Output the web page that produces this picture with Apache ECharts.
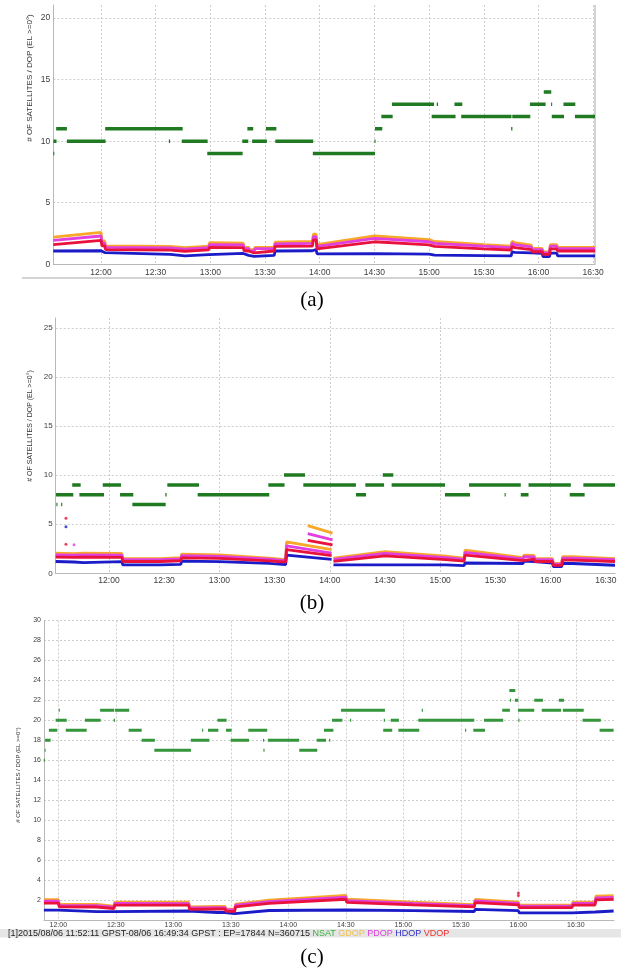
<!DOCTYPE html>
<html><head><meta charset="utf-8">
<script src="https://cdn.jsdelivr.net/npm/echarts@6/dist/echarts.min.js"></script>
<style>html,body{margin:0;padding:0;background:#fff}#c{width:621px;height:968px}</style>
</head><body><div id="c"></div>
<script>
// ---------- texts ----------
const yTitle = '# OF SATELLITES / DOP (EL >=0\u00b0)';
const panelLabels = ['(a)', '(b)', '(c)'];
const statusText = '[1]2015/08/06 11:52:11 GPST-08/06 16:49:34 GPST : EP=17844 N=360715 ';
const legendNames = ['NSAT', 'GDOP', 'PDOP', 'HDOP', 'VDOP'];

// ---------- tick labels ----------
const xLabelsAll = ['12:00','12:30','13:00','13:30','14:00','14:30','15:00','15:30','16:00','16:30'];
const xGridB = ['12:00','13:00','14:00','15:00','16:00'];

// ---------- panel (a) ----------
const nsatA = [
 ['11:33.8','11:34.4',9],['11:33.9','11:35.6',10],['11:35.4','11:41.3',11],['11:41.3','12:02.5',10],
 ['12:02.3','12:44.8',11],['12:37.2','12:37.9',10],['12:44.3','12:58.5',10],['12:58.3','13:17.7',9],
 ['13:17.5','13:20.8',10],['13:20.3','13:23.5',11],['13:22.9','13:31',10],['13:30.5','13:36.2',11],
 ['13:35.6','13:56.4',10],['13:56.2','14:30.3',9],['14:30','14:30.6',10],['14:30.3','14:34.3',11],
 ['14:33.8','14:40',12],['14:39.6','15:02.7',13],['15:04.2','15:04.9',13],['15:01.4','15:14.5',12],
 ['15:13.9','15:18.2',13],['15:17.6','15:45.2',12],['15:45','15:45.7',11],['15:45.6','15:55.5',12],
 ['15:55.3','16:03.9',13],['16:02.9','16:07',14],['16:06.9','16:07.5',13],['16:07.3','16:14',12],
 ['16:13.7','16:20.2',13],['16:20','16:31',12]
];
const timesA = ['11:33.8','12:00','12:00.5','12:02','12:02.5','12:38','12:38.5','12:46','12:46.5','12:59','12:59.5','13:18','13:18.5','13:21','13:21.5','13:24','13:24.5','13:35','13:35.5','13:56','13:56.5','13:58','13:58.5','14:30','15:00','15:00.5','15:03','15:03.5','15:30','15:45','15:45.5','15:47','15:47.5','15:56','15:56.5','16:02','16:02.5','16:06','16:06.5','16:10','16:10.5','16:31'];
const gdopA = [2.2,2.6,1.9,1.9,1.5,1.45,1.35,1.35,1.48,1.48,1.75,1.72,1.4,1.38,1.18,1.18,1.38,1.38,1.8,1.85,2.45,2.45,1.6,2.3,2.0,1.85,1.85,1.95,1.6,1.48,1.88,1.75,1.6,1.55,1.3,1.3,1.0,1.0,1.6,1.6,1.38,1.38];
const pdopA = [1.95,2.3,1.72,1.72,1.38,1.33,1.24,1.24,1.36,1.36,1.6,1.57,1.28,1.27,1.08,1.08,1.27,1.27,1.65,1.7,2.25,2.25,1.45,2.1,1.83,1.7,1.7,1.78,1.47,1.36,1.7,1.6,1.47,1.42,1.2,1.2,0.92,0.92,1.47,1.47,1.27,1.27];
const vdopA = [1.6,1.95,1.5,1.5,1.2,1.15,1.06,1.06,1.17,1.17,1.38,1.36,1.1,1.08,0.92,0.92,1.08,1.08,1.45,1.48,1.98,1.98,1.25,1.83,1.57,1.45,1.45,1.52,1.25,1.16,1.45,1.35,1.25,1.2,1.02,1.02,0.8,0.8,1.25,1.25,1.08,1.08];
const hdopA = [1.08,1.1,0.95,0.95,0.8,0.8,0.7,0.68,0.77,0.78,0.9,0.88,0.72,0.72,0.65,0.65,0.72,0.72,1.08,1.1,1.2,1.2,0.85,0.87,0.82,0.74,0.74,0.78,0.7,0.68,1.0,0.97,0.95,0.93,0.9,0.88,0.62,0.62,0.9,0.9,0.68,0.68];

// ---------- panel (b) ----------
const nsatB = [
 ['11:31.4','11:32',7],['11:34','11:34.6',7],['11:31.2','11:40.6',8],['11:40','11:44.6',9],
 ['11:43.9','11:57.3',8],['11:56.6','12:06.5',9],['12:06','12:13.2',8],['12:12.7','12:30.8',7],
 ['12:30.6','12:31.3',8],['12:31.7','12:48.9',9],['12:48.2','13:27.1',8],['13:26.6','13:35.4',9],
 ['13:35.1','13:46.5',10],['13:45.6','14:14.2',9],['14:14.2','14:19.7',8],['14:19.3','14:29.5',9],
 ['14:28.8','14:34.5',10],['14:33.6','15:02.6',9],['15:02.6','15:16.2',8],['15:15.7','15:43.8',9],
 ['15:35','15:35.6',8],['15:43.8','15:48',8],['15:48','16:11',9],['16:10.4','16:18.5',8],['16:17.8','16:35',9]
];
const timesB = ['11:31','11:41','11:41.5','11:46','11:46.5','12:07','12:07.5','12:28','12:28.5','12:39','12:39.5','13:00','13:27','13:27.5','13:36','13:36.5','14:01',null,'13:48','14:01.5',null,'14:02','14:30','15:03','15:03.5','15:13','15:13.5','15:45','15:45.5','15:51','15:51.5','16:01','16:01.5','16:06','16:06.5','16:12','16:12.5','16:35'];
const gdopB = [2.05,2.0,2.05,2.05,2.08,2.02,1.5,1.5,1.6,1.6,1.95,1.88,1.55,1.4,1.4,3.2,2.4,null,4.85,4.1,null,1.55,2.2,1.75,1.55,1.55,2.35,1.6,1.85,1.82,1.5,1.5,1.0,1.0,1.7,1.7,1.5,1.5];
const pdopB = [1.88,1.85,1.88,1.88,1.9,1.85,1.38,1.38,1.47,1.47,1.8,1.73,1.43,1.3,1.3,2.8,2.05,null,4.05,3.4,null,1.42,2.02,1.6,1.42,1.42,2.12,1.47,1.7,1.67,1.38,1.38,0.92,0.92,1.55,1.55,1.38,1.38];
const vdopB = [1.65,1.62,1.65,1.65,1.67,1.62,1.2,1.2,1.28,1.28,1.58,1.52,1.26,1.13,1.13,2.4,1.8,null,3.35,2.9,null,1.22,1.78,1.4,1.24,1.24,1.85,1.28,1.48,1.45,1.2,1.2,0.8,0.8,1.35,1.35,1.2,1.2];
const hdopB = [1.2,1.15,1.08,1.08,1.22,1.18,0.85,0.85,0.9,0.9,1.25,1.18,1.02,0.88,0.88,1.85,1.42,null,null,null,null,0.85,0.85,0.85,0.78,0.78,1.05,1.0,1.25,1.2,1.05,1.05,0.68,0.68,1.0,1.0,0.82,0.82];
const vdopOutB = [['11:36.6',5.6],['11:36.6',2.95]];
const hdopOutB = [['11:36.6',4.74]];
const pdopOutB = [['11:41',2.9]];

// ---------- panel (c) ----------
const nsatC = [
 ['11:52.4','11:53',16],['11:52.9','11:53.4',17],['11:53.1','11:56',18],['11:55.1','11:59.5',19],
 ['12:00.2','12:00.8',21],['11:58.6','12:04.4',20],['12:03.9','12:14.8',19],['12:13.9','12:22.1',20],
 ['12:21.8','12:29.2',21],['12:28.9','12:29.6',20],['12:29.6','12:37',21],['12:36.7','12:43.5',19],
 ['12:43.5','12:50.4',18],['12:50.1','13:09.2',17],['13:09.1','13:18.8',18],['13:15','13:15.6',19],
 ['13:18.1','13:23.5',19],['13:23','13:27.8',20],['13:27.5','13:30.4',19],['13:29.9','13:39.5',18],
 ['13:39.1','13:49',19],['13:47','13:47.6',17],['13:46.8','13:47.4',18],['13:49.3','14:05.7',18],
 ['14:05.7','14:15.1',17],['14:14.8','14:19.7',18],['14:18.6','14:23.5',19],['14:21.3','14:21.9',18],
 ['14:22.8','14:28.2',20],['14:27.5','14:50.4',21],['14:32.2','14:32.8',20],['14:49.8','14:50.4',20],
 ['14:49.5','14:54.2',19],['14:53.4','14:57.7',20],['14:57.4','15:08.3',19],['15:09.6','15:10.2',21],
 ['15:07.8','15:37',20],['15:32.2','15:32.8',19],['15:36.5','15:42.6',19],['15:42.1','15:52.1',20],
 ['15:51.6','15:55.6',21],['15:55.3','15:58.4',23],['15:55.6','15:56.2',22],['15:58.2','16:00',22],
 ['16:00','16:00.6',20],['15:59.8','16:08.3',21],['16:08.3','16:12.8',22],['16:12.2','16:22.3',21],
 ['16:21.1','16:23.8',22],['16:23.2','16:34.1',21],['16:33.5','16:43',20],['16:42.4','16:49.7',19]
];
const timesC = ['11:52.5','12:00','12:00.5','12:20','12:20.5','12:29','12:29.5','13:08','13:08.5','13:23','13:27','13:27.5','13:32','13:32.5','13:50','14:30','14:30.5','15:05','15:05.5','15:37','15:37.5','16:00','16:00.5','16:28','16:28.5','16:40','16:40.5','16:49.7'];
const gdopC = [2.05,2.05,1.58,1.56,1.4,1.4,1.8,1.78,1.3,1.35,1.35,1.08,1.08,1.6,2.0,2.47,2.1,1.8,1.62,1.55,2.07,1.8,1.5,1.5,1.8,1.8,2.4,2.45];
const pdopC = [1.88,1.88,1.46,1.44,1.3,1.3,1.66,1.64,1.2,1.24,1.24,1.0,1.0,1.48,1.85,2.28,1.94,1.67,1.5,1.44,1.92,1.67,1.39,1.39,1.66,1.66,2.22,2.26];
const vdopC = [1.7,1.7,1.32,1.3,1.15,1.15,1.5,1.48,1.07,1.1,1.1,0.86,0.86,1.32,1.67,2.08,1.76,1.52,1.38,1.32,1.74,1.52,1.24,1.24,1.5,1.5,2.02,2.06];
const hdopC = [0.98,0.98,0.83,0.83,0.83,0.83,0.9,0.9,0.72,0.75,0.75,0.63,0.63,0.82,0.95,1.0,0.95,0.93,0.87,0.85,1.07,0.93,0.72,0.72,0.8,0.8,0.9,0.9];
const vdopOutC = [['16:00',2.7],['16:00',2.45]];

// ---------- helpers ----------
function tm(s){ const p = s.split(':'); return (+p[0]) * 60 + (+p[1]); }
function fmt(v){ const h = Math.floor(v / 60 + 1e-9); const m = Math.round(v - h * 60); return h + ':' + (m < 10 ? '0' : '') + m; }
function segData(segs){
  const d = [];
  segs.forEach(s => { d.push([tm(s[0]), s[2]], [tm(s[1]), s[2]], [tm(s[1]), '-']); });
  return d;
}
function dopData(times, vals){
  let last = 0;
  return times.map((t, i) => {
    if (t === null) return [last, '-'];
    last = tm(t);
    return [last, vals[i] === null ? '-' : vals[i]];
  });
}
function pts(arr){ return arr.map(p => [tm(p[0]), p[1]]); }

const COL = { NSAT: '#1f7f24', GDOP: '#f7a828', PDOP: '#e23fe0', HDOP: '#1b1bc8', VDOP: '#e8123c' };
const NSATC = ['#1f7a22', '#1f7a22', '#35953a'];
const FONT = 'Liberation Sans';
const GRIDLINE = { color: '#cdcdcd', type: [2, 2], width: 1 };
const AXISLINE = { color: '#b8b8b8', width: 1 };

const grids = [
  { left: 53.3, top: 5, width: 541.7, height: 259.3 },
  { left: 55.7, top: 318, width: 559.3, height: 255.3 },
  { left: 44, top: 620.5, width: 570, height: 299.5 }
].map(g => Object.assign({ outerBoundsMode: 'none', containLabel: false }, g));

const xCfg = [
  { min: 693.83, max: 991, labels: xLabelsAll, grid: xLabelsAll, fs: 8.5, margin: 4 },
  { min: 691.03, max: 995, labels: xLabelsAll, grid: xGridB, fs: 8.5, margin: 3 },
  { min: 712.54, max: 1009.9, labels: xLabelsAll, grid: xLabelsAll, fs: 7, margin: 1.5 }
];
const xAxes = xCfg.map((c, i) => ({
  type: 'value', gridIndex: i, min: c.min, max: c.max,
  axisLine: { show: true, lineStyle: AXISLINE },
  axisTick: { show: false, customValues: c.grid.map(tm) },
  axisLabel: { customValues: c.labels.map(tm), formatter: v => fmt(v), fontSize: c.fs, margin: c.margin, color: '#3c3c3c', fontFamily: FONT },
  splitLine: { show: true, lineStyle: GRIDLINE }
}));

const yCfg = [
  { max: 21.06, interval: 5, fs: 8.5, showMin: true, showMax: false },
  { max: 26, interval: 5, fs: 8, showMin: true, showMax: false },
  { max: 30, interval: 2, fs: 7, showMin: false, showMax: true }
];
const yAxes = yCfg.map((c, i) => ({
  type: 'value', gridIndex: i, min: 0, max: c.max, interval: c.interval,
  axisLine: { show: true, lineStyle: AXISLINE },
  axisTick: { show: false },
  axisLabel: { fontSize: c.fs, margin: 3, color: '#3c3c3c', fontFamily: FONT, showMinLabel: c.showMin, showMaxLabel: c.showMax },
  splitLine: { show: true, showMinLine: false, showMaxLine: c.showMax, lineStyle: GRIDLINE }
}));

const panels = [
  { nsat: nsatA, t: timesA, g: gdopA, p: pdopA, v: vdopA, h: hdopA, nw: 3.5 },
  { nsat: nsatB, t: timesB, g: gdopB, p: pdopB, v: vdopB, h: hdopB, nw: 3.5 },
  { nsat: nsatC, t: timesC, g: gdopC, p: pdopC, v: vdopC, h: hdopC, nw: 3 }
];
const series = [];
panels.forEach((P, i) => {
  const base = { type: 'line', xAxisIndex: i, yAxisIndex: i, showSymbol: false, connectNulls: false, animation: false, silent: true };
  series.push(Object.assign({}, base, { name: 'NSAT', data: segData(P.nsat), lineStyle: { color: NSATC[i], width: P.nw, cap: 'butt' }, z: 3 }));
  [['GDOP', P.g], ['PDOP', P.p], ['HDOP', P.h], ['VDOP', P.v]].forEach(([n, vals], k) => {
    series.push(Object.assign({}, base, { name: n, data: dopData(P.t, vals), lineStyle: { color: COL[n], width: 2.8 }, z: 4 + k }));
  });
});
function scat(i, name, arr){
  series.push({ type: 'scatter', xAxisIndex: i, yAxisIndex: i, name, data: pts(arr), symbolSize: 3, itemStyle: { color: COL[name] }, silent: true, animation: false, z: 9 });
}
scat(1, 'VDOP', vdopOutB); scat(1, 'HDOP', hdopOutB); scat(1, 'PDOP', pdopOutB); scat(2, 'VDOP', vdopOutC);

const titlePos = [[30, 78, 8], [30, 426, 7], [18, 775, 6]];
const labelPos = [[312, 300], [312, 603], [312, 957]];
const graphic = [];
titlePos.forEach(([x, y, fs]) => graphic.push({ type: 'text', x, y, rotation: Math.PI / 2, style: { text: yTitle, fontSize: fs, fontFamily: FONT, fill: '#333', align: 'center', verticalAlign: 'middle' } }));
labelPos.forEach(([x, y], i) => graphic.push({ type: 'text', x, y, style: { text: panelLabels[i], fontSize: 21, fontFamily: 'Liberation Serif', fill: '#000', align: 'center', verticalAlign: 'middle' } }));
// panel (a) frame pieces
graphic.push({ type: 'line', shape: { x1: 595, y1: 5, x2: 595, y2: 264.3 }, style: { stroke: '#a8a8a8', lineWidth: 1 } });
graphic.push({ type: 'line', shape: { x1: 22, y1: 278, x2: 600, y2: 278 }, style: { stroke: '#c4c4c4', lineWidth: 1.5 } });
// status bar of (c)
graphic.push({ type: 'rect', shape: { x: 0, y: 929, width: 621, height: 8.5 }, style: { fill: '#e6e6e6' } });
graphic.push({ type: 'text', x: 8, y: 933.5, style: {
  text: statusText + legendNames.map(n => '{' + n + '|' + n + '}').join(' '),
  fontSize: 9, fontFamily: FONT, fill: '#222', verticalAlign: 'middle',
  rich: {
    NSAT: { fill: '#3cb043', fontSize: 9, fontFamily: FONT },
    GDOP: { fill: '#f2c14e', fontSize: 9, fontFamily: FONT },
    PDOP: { fill: '#e040e0', fontSize: 9, fontFamily: FONT },
    HDOP: { fill: '#3030c8', fontSize: 9, fontFamily: FONT },
    VDOP: { fill: '#ee3030', fontSize: 9, fontFamily: FONT }
  }
} });

const chart = echarts.init(document.getElementById('c'), null, { renderer: 'canvas' });
chart.setOption({ animation: false, backgroundColor: '#ffffff', grid: grids, xAxis: xAxes, yAxis: yAxes, series, graphic });
</script></body></html>
